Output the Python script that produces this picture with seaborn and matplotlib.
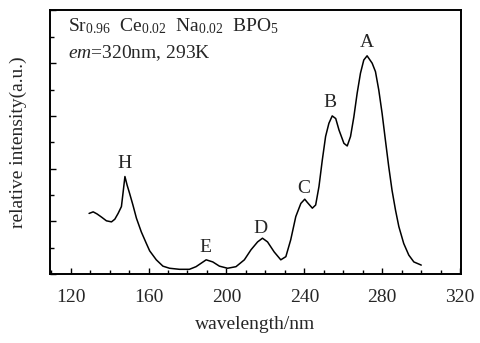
import numpy as np
import pandas as pd
import matplotlib
matplotlib.use('Agg')
import matplotlib.pyplot as plt
from matplotlib.ticker import MultipleLocator
import seaborn as sns

# excitation spectrum
wavelength = [129.5, 131.6, 133.6, 135.9, 138.4, 141.0, 142.7, 144.4, 146.1, 146.9,
              147.9, 149.0, 150.3, 152.0, 153.8, 156.3, 158.9, 160.6, 164.0, 167.4,
              170.8, 175.9, 181.0, 184.4, 189.6, 193.0, 196.4, 200.6, 204.9, 209.2,
              212.6, 216.0, 218.5, 221.1, 224.5, 227.9, 230.5, 233.0, 235.6, 238.2,
              240.2, 241.5, 244.1, 245.8, 247.5, 249.2, 250.9, 252.6, 254.3, 256.1,
              257.8, 260.3, 262.0, 263.7, 265.4, 267.1, 268.8, 270.5, 272.2, 274.8,
              276.5, 278.2, 279.9, 281.6, 283.3, 285.0, 286.8, 288.5, 291.0, 293.6,
              296.2, 300.0]
intensity = [1.15, 1.18, 1.14, 1.08, 1.01, 0.99, 1.04, 1.15, 1.28, 1.53,
             1.85, 1.69, 1.53, 1.31, 1.06, 0.80, 0.58, 0.44, 0.27, 0.15,
             0.11, 0.09, 0.09, 0.14, 0.27, 0.23, 0.15, 0.11, 0.14, 0.27,
             0.46, 0.61, 0.68, 0.61, 0.42, 0.27, 0.33, 0.65, 1.09, 1.34,
             1.42, 1.36, 1.25, 1.31, 1.66, 2.16, 2.61, 2.86, 3.00, 2.95,
             2.73, 2.48, 2.43, 2.61, 2.98, 3.43, 3.81, 4.06, 4.14, 4.00,
             3.84, 3.49, 3.05, 2.54, 2.04, 1.59, 1.21, 0.90, 0.58, 0.36,
             0.23, 0.17]

peak_names = ['H', 'E', 'D', 'C', 'B', 'A']
peak_x = [147.9, 189.2, 217.7, 239.9, 253.0, 272.3]
peak_y = [2.10, 0.51, 0.87, 1.63, 3.25, 4.39]

sns.set_style('ticks')
plt.rcParams['font.family'] = ['Liberation Serif', 'DejaVu Serif']
plt.rcParams['mathtext.fontset'] = 'custom'
plt.rcParams['mathtext.rm'] = 'Liberation Serif'
plt.rcParams['mathtext.it'] = 'Liberation Serif:italic'

df = pd.DataFrame({'wavelength': wavelength, 'intensity': intensity})

fig = plt.figure(figsize=(4.8, 3.43), dpi=100)
ax = fig.add_axes([0.104, 0.201, 0.856, 0.770])
sns.lineplot(data=df, x='wavelength', y='intensity', ax=ax, color='black', lw=1.1)

for name, px, py in zip(peak_names, peak_x, peak_y):
    ax.text(px, py, name, ha='center', va='center', fontsize=14)

ax.text(0.043, 0.94, r'Sr$_{0.96}$  Ce$_{0.02}$  Na$_{0.02}$  BPO$_5$',
        transform=ax.transAxes, fontsize=14, va='center')
ax.text(0.043, 0.835, r'$\it{em}$=320nm, 293K',
        transform=ax.transAxes, fontsize=14, va='center')

ax.set_xlim(109.4, 320.3)
ax.set_ylim(0, 5.01)
ax.xaxis.set_major_locator(MultipleLocator(40))
ax.xaxis.set_minor_locator(MultipleLocator(10))
ax.yaxis.set_major_locator(MultipleLocator(1))
ax.yaxis.set_minor_locator(MultipleLocator(0.5))
ax.tick_params(which='both', direction='in', top=False, right=False, width=1, color='black')
ax.tick_params(which='major', length=4)
ax.tick_params(which='minor', length=3)
ax.tick_params(axis='x', labelsize=14, pad=11)
ax.set_yticklabels([])
for s in ax.spines.values():
    s.set_visible(True)
    s.set_linewidth(1.4)
    s.set_color('black')

ax.set_xlabel('wavelength/nm', fontsize=14, labelpad=7)
ax.set_ylabel('relative intensity(a.u.)', fontsize=14, labelpad=13)

fig.savefig('out.png', dpi=100)
